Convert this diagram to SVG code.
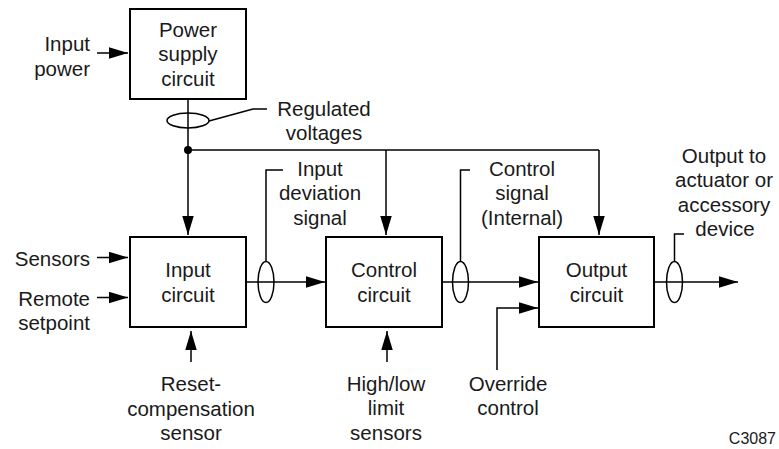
<svg xmlns="http://www.w3.org/2000/svg" width="779" height="449" viewBox="0 0 779 449">
<style>
text{font-family:"Liberation Sans",Arial,sans-serif;font-size:20.5px;fill:#1a1a1a}
.m{text-anchor:middle}.e{text-anchor:end}
.box{fill:#fff;stroke:#000;stroke-width:2}
.ln{fill:none;stroke:#000;stroke-width:1.5}
.ar{fill:none;stroke:#000;stroke-width:1.5;marker-end:url(#ah)}
.el{fill:none;stroke:#000;stroke-width:1.5}
.code{font-size:16px}
</style>
<defs>
<marker id="ah" markerUnits="userSpaceOnUse" markerWidth="20" markerHeight="12" refX="19" refY="5.75" orient="auto" viewBox="0 0 20 12">
<path d="M0,0 L19,5.75 L0,11.5 z" fill="#000"/>
</marker>
</defs>
<g id="connectors">
<path class="ar" d="M97,53 H128"/>
<path class="ar" d="M188,99 V235"/>
<ellipse class="el" cx="188" cy="120.5" rx="21" ry="7.5"/>
<path class="ln" d="M209,121 L253,109 H267"/>
<circle cx="188" cy="150" r="4" fill="#000"/>
<path class="ln" d="M188,150 H599"/>
<path class="ar" d="M386,150 V235"/>
<path class="ar" d="M599,150 V235"/>
<path class="ar" d="M97,257.5 H128"/>
<path class="ar" d="M97,297.5 H128"/>
<path class="ar" d="M246,282 H325"/>
<ellipse class="el" cx="266" cy="282" rx="8" ry="20.5"/>
<path class="ln" d="M266,261.5 V170 H283"/>
<path class="ar" d="M442,282 H538"/>
<ellipse class="el" cx="460.5" cy="282" rx="8" ry="20.5"/>
<path class="ln" d="M460.5,261.5 V170 H470"/>
<path class="ar" d="M654,282 H738"/>
<ellipse class="el" cx="674.5" cy="282" rx="8" ry="20.5"/>
<path class="ln" d="M674.5,261.5 V234 H684"/>
<path class="ar" d="M497,370 V308 H538"/>
<path class="ar" d="M191,362 V331"/>
<path class="ar" d="M387,362 V331"/>
</g>
<g id="power-supply">
<rect class="box" x="130" y="9" width="116" height="90"/>
<text class="m" x="188" y="36.5">Power</text>
<text class="m" x="188" y="61">supply</text>
<text class="m" x="188" y="85.5">circuit</text>
</g>
<g id="input-circuit">
<rect class="box" x="130" y="237" width="116" height="90"/>
<text class="m" x="188" y="277">Input</text>
<text class="m" x="188" y="301.5">circuit</text>
</g>
<g id="control-circuit">
<rect class="box" x="326" y="237" width="116" height="90"/>
<text class="m" x="384" y="277">Control</text>
<text class="m" x="384" y="301.5">circuit</text>
</g>
<g id="output-circuit">
<rect class="box" x="539" y="237" width="115" height="90"/>
<text class="m" x="596.5" y="277">Output</text>
<text class="m" x="596.5" y="301.5">circuit</text>
</g>
<g id="labels">
<text class="e" x="90" y="51">Input</text>
<text class="e" x="90" y="76">power</text>
<text class="m" x="324" y="115.5">Regulated</text>
<text class="m" x="324" y="140">voltages</text>
<text class="m" x="320" y="175.5">Input</text>
<text class="m" x="320" y="200">deviation</text>
<text class="m" x="320" y="224.5">signal</text>
<text class="m" x="522" y="175.5">Control</text>
<text class="m" x="522" y="200">signal</text>
<text class="m" x="522" y="224.5">(Internal)</text>
<text class="m" x="724" y="162.5">Output to</text>
<text class="m" x="724" y="187">actuator or</text>
<text class="m" x="724" y="211.5">accessory</text>
<text class="m" x="725" y="236">device</text>
<text class="e" x="90" y="266">Sensors</text>
<text class="e" x="90" y="305.5">Remote</text>
<text class="e" x="90" y="330">setpoint</text>
<text class="m" x="191" y="391">Reset-</text>
<text class="m" x="191" y="415.5">compensation</text>
<text class="m" x="191" y="440">sensor</text>
<text class="m" x="386" y="390.5">High/low</text>
<text class="m" x="386" y="415">limit</text>
<text class="m" x="386" y="439.5">sensors</text>
<text class="m" x="508" y="390.5">Override</text>
<text class="m" x="508" y="415">control</text>
<text class="e code" x="776" y="444">C3087</text>
</g>
</svg>
